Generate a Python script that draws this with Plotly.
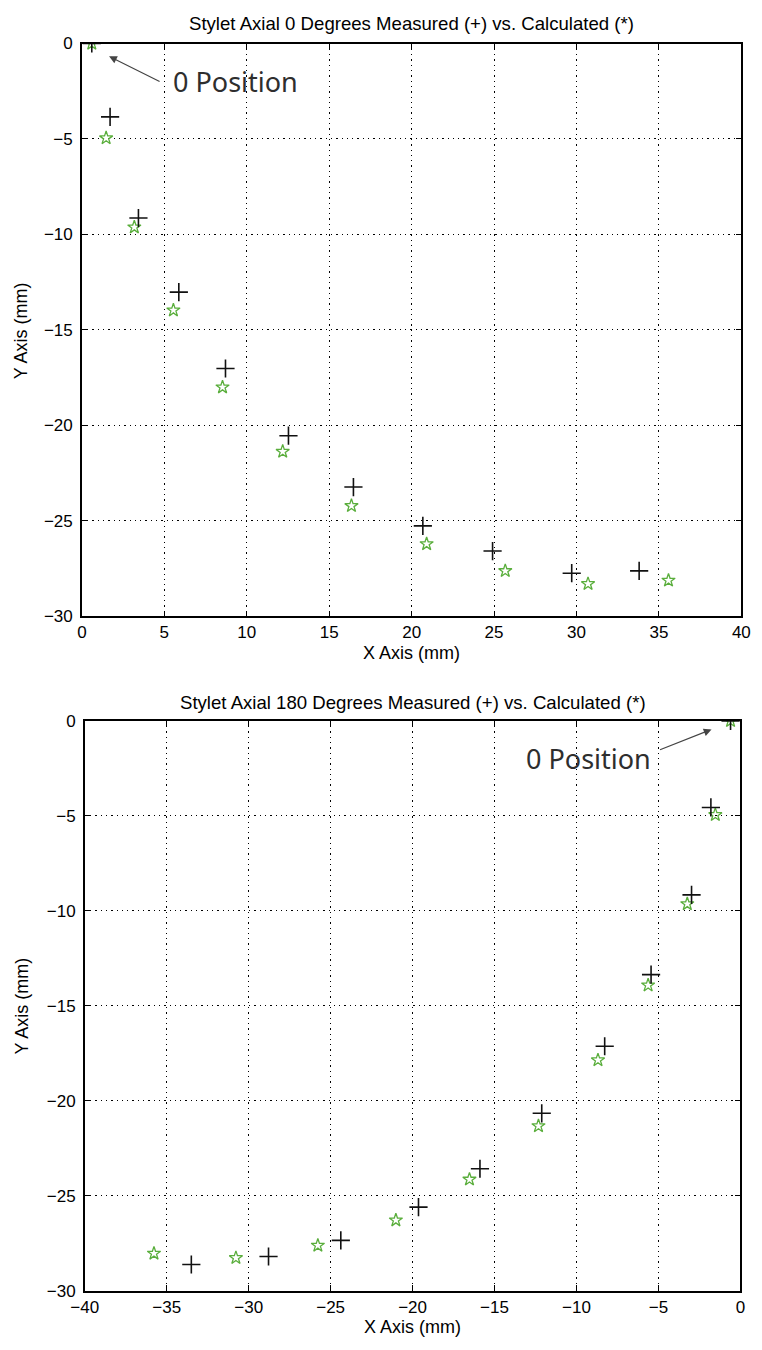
import plotly.graph_objects as go

# Stylet Axial 0 degrees
meas0_x = [0.6, 1.71, 3.43, 5.88, 8.71, 12.53, 16.47, 20.68, 24.91, 29.71, 33.8]
meas0_y = [0.0, -3.84, -9.14, -13.02, -17.02, -20.54, -23.23, -25.26, -26.58, -27.74, -27.62]
calc0_x = [0.6, 1.47, 3.18, 5.55, 8.53, 12.18, 16.35, 20.91, 25.68, 30.7, 35.58]
calc0_y = [0.0, -4.95, -9.62, -13.97, -18.0, -21.37, -24.21, -26.21, -27.62, -28.3, -28.12]

# Stylet Axial 180 degrees
meas180_x = [-0.6, -1.8, -2.98, -5.45, -8.28, -12.12, -15.89, -19.64, -24.38, -28.79, -33.5]
meas180_y = [0.0, -4.56, -9.16, -13.36, -17.13, -20.66, -23.58, -25.6, -27.35, -28.2, -28.62]
calc180_x = [-0.6, -1.53, -3.24, -5.63, -8.69, -12.32, -16.53, -21.02, -25.78, -30.78, -35.78]
calc180_y = [0.0, -4.95, -9.64, -13.92, -17.86, -21.33, -24.14, -26.29, -27.62, -28.27, -28.04]

titles = ["Stylet Axial 0 Degrees Measured (+) vs. Calculated (*)",
          "Stylet Axial 180 Degrees Measured (+) vs. Calculated (*)"]
x_title = "X Axis (mm)"
y_title = "Y Axis (mm)"
x_ticks_top = [0, 5, 10, 15, 20, 25, 30, 35, 40]
x_ticks_bot = [-40, -35, -30, -25, -20, -15, -10, -5, 0]
y_ticks = [-30, -25, -20, -15, -10, -5, 0]

W, H = 762, 1350
FONT = "Liberation Sans, Arial, sans-serif"
STAR_COLOR = "#5aae3c"

fig = go.Figure()

def add_pair(mx, my, cx, cy, xa, ya):
    fig.add_trace(go.Scatter(
        x=cx, y=cy, mode="markers", xaxis=xa, yaxis=ya, showlegend=False,
        marker=dict(symbol="star-open", size=10, color=STAR_COLOR,
                    line=dict(width=1.3, color=STAR_COLOR))))
    fig.add_trace(go.Scatter(
        x=mx, y=my, mode="markers", xaxis=xa, yaxis=ya, showlegend=False,
        marker=dict(symbol="cross-thin", size=13, color="#111",
                    line=dict(width=1.6, color="#111"))))

add_pair(meas0_x, meas0_y, calc0_x, calc0_y, "x", "y")
add_pair(meas180_x, meas180_y, calc180_x, calc180_y, "x2", "y2")

axis_common = dict(
    showline=True, linecolor="black", linewidth=1.5, mirror="allticks",
    ticks="inside", ticklen=6, tickcolor="black", tickwidth=1.2,
    showgrid=True, gridcolor="black", gridwidth=1.3, griddash="1.3px,4px",
    zeroline=False, tickfont=dict(family=FONT, size=17, color="black"),
)

top_dom = [1 - 616 / H, 1 - 35 / H]
bot_dom = [1 - 1300 / H, 1 - 722 / H]

fig.update_layout(
    width=W, height=H,
    margin=dict(l=0, r=0, t=0, b=0),
    paper_bgcolor="white", plot_bgcolor="white",
    xaxis=dict(axis_common, domain=[70 / W, 750 / W], range=[0, 40],
               tickvals=x_ticks_top, anchor="y"),
    yaxis=dict(axis_common, domain=top_dom, range=[-30, 0],
               tickvals=y_ticks, anchor="x", ticklabelstandoff=4),
    xaxis2=dict(axis_common, domain=[73 / W, 749 / W], range=[-40, 0],
                tickvals=x_ticks_bot, anchor="y2"),
    yaxis2=dict(axis_common, domain=bot_dom, range=[-30, 0],
                tickvals=y_ticks, anchor="x2", ticklabelstandoff=4),
)

title_font = dict(family=FONT, size=18.6, color="black")
label_font_axis = dict(family=FONT, size=18, color="black")
ann = []
# subplot titles and axis titles
for title, yt, xc, x_lab_y, y_lab_y in [
        (titles[0], 15, 410, 653, 326),
        (titles[1], 703, 411, 1337, 1011)]:
    ann.append(dict(text=title, xref="paper", yref="paper",
                    x=xc / W, y=1 - yt / H, xanchor="center", yanchor="middle",
                    showarrow=False, font=title_font))
    ann.append(dict(text=x_title, xref="paper", yref="paper",
                    x=xc / W, y=1 - x_lab_y / H, xanchor="center", yanchor="middle",
                    showarrow=False, font=label_font_axis))
    ann.append(dict(text=y_title, xref="paper", yref="paper", textangle=-90,
                    x=8 / W, y=1 - y_lab_y / H, xanchor="center", yanchor="middle",
                    showarrow=False, font=label_font_axis))

# "0 Position" callouts
label_font = dict(family="Noto Sans, Open Sans, sans-serif", size=27, color="#2e2e2e")
ann.append(dict(text="0 Position", xref="x", yref="y", x=9.3, y=-2.0,
                showarrow=False, font=label_font))
ann.append(dict(text="", xref="x", yref="y", x=1.65, y=-0.67,
                ax=52, ay=26, showarrow=True, arrowhead=2, arrowsize=1.3,
                arrowwidth=1.2, arrowcolor="#444"))
ann.append(dict(text="0 Position", xref="x2", yref="y2", x=-9.29, y=-1.97,
                showarrow=False, font=label_font))
ann.append(dict(text="", xref="x2", yref="y2", x=-1.76, y=-0.45,
                ax=-53, ay=21, showarrow=True, arrowhead=2, arrowsize=1.3,
                arrowwidth=1.2, arrowcolor="#444"))

fig.update_layout(annotations=ann)

fig.write_html("out.html")
